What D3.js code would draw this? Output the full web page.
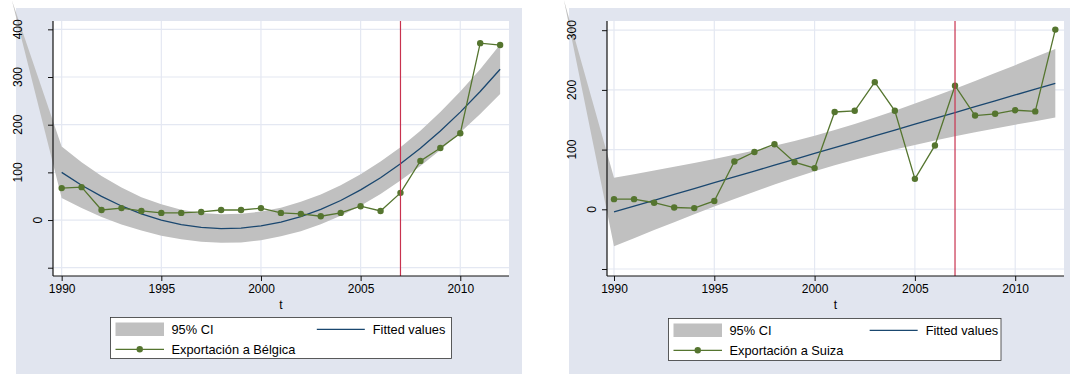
<!DOCTYPE html>
<html>
<head>
<meta charset="utf-8">
<script src="https://cdn.jsdelivr.net/npm/d3@7"></script>
<style>
  html, body { margin: 0; padding: 0; background: #ffffff; }
  svg { display: block; font-family: Arial, "Liberation Sans", Helvetica, sans-serif; }
</style>
</head>
<body>
<svg id="chart" width="1070" height="374"></svg>
<script>
// Years on the horizontal axis
const years = [1990,1991,1992,1993,1994,1995,1996,1997,1998,1999,2000,2001,
               2002,2003,2004,2005,2006,2007,2008,2009,2010,2011,2012];
const xTicks = [1990, 1995, 2000, 2005, 2010];
const breakYear = 2007;

// Exports to Belgium, quadratic fit and its 95% CI
const belgica    = [67,69,21,25,19,15,15,17,21,21,25,15,13,8,15,29,19,57,124,151,182,371,367];
const fitBelgica = [100.0,73.0,49.5,29.5,13.0,0.0,-9.5,-15.5,-17.9,-16.9,-12.3,-4.2,
                    7.3,22.4,41.0,63.2,88.8,117.9,150.5,186.7,226.4,269.5,316.2];
const hiBelgica  = [154,121,92.5,68.5,48,33,21.5,14.5,12.1,13.1,17.7,25.8,
                    38.3,53.4,73,96.2,122.8,152.9,187.5,226.7,269.4,316.5,368.2];
const loBelgica  = [46,25,6.5,-9.5,-22,-33,-40.5,-45.5,-47.9,-46.9,-42.3,-34.2,
                    -23.7,-8.6,9,30.2,54.8,82.9,113.5,146.7,183.4,222.5,264.2];
const bandStartBelgica = [1987.5, 461];
const yTicksBelgica = [-100, 0, 100, 200, 300, 400];

// Exports to Switzerland, linear fit and its 95% CI
const suiza    = [17,17,11,3,2,14,80,96,109,79,69,163,165,213,165,51,107,207,157,160,166,164,301];
const fitSuiza = [-4.5,5.3,15.1,24.9,34.7,44.5,54.3,64.1,73.9,83.7,93.5,103.3,
                  113.1,122.9,132.7,142.5,152.3,162.1,171.9,181.7,191.5,201.3,211.1];
const hiSuiza  = [52.8,58.9,65.0,71.3,77.7,84.4,91.4,98.7,106.4,114.6,123.4,132.9,
                  143.0,153.8,165.2,177.1,189.4,202.0,214.9,228.1,241.4,254.9,268.4];
const loSuiza  = [-61.8,-48.3,-34.8,-21.5,-8.3,4.6,17.2,29.5,41.4,52.8,63.6,73.7,
                  83.2,92.0,100.2,107.9,115.2,122.2,128.9,135.3,141.6,147.7,153.8];
const bandStartSuiza = [1987.5, 351];
const yTicksSuiza = [-100, 0, 100, 200, 300];

const legendLabels = ["95% CI", "Fitted values"];

const colors = {
  region: "#e1e5ef",
  grid: "#e4e8f2",
  band: "#c0c0c0",
  fit: "#1a476f",
  series: "#55752f",
  vline: "#c8324f",
  axis: "#111111"
};

const svg = d3.select("#chart");

const panels = [
  {
    name: "Exportación a Bélgica", values: belgica, fit: fitBelgica, hi: hiBelgica, lo: loBelgica,
    bandStart: bandStartBelgica, yTicks: yTicksBelgica,
    region: {x: 16, y: 8, w: 506, h: 366},
    plot: {x0: 53, x1: 509, y0: 21, y1: 276},
    xDomain: [1989.565, 2012.445], yDomain: [-117.4, 417.5],
    legend: {x: 110.5, y: 317.5, w: 341, h: 41}
  },
  {
    name: "Exportación a Suiza", values: suiza, fit: fitSuiza, hi: hiSuiza, lo: loSuiza,
    bandStart: bandStartSuiza, yTicks: yTicksSuiza,
    region: {x: 569, y: 8, w: 506, h: 366},
    plot: {x0: 607, x1: 1064, y0: 21, y1: 276},
    xDomain: [1989.651, 2012.433], yDomain: [-111.7, 315.4],
    legend: {x: 668.5, y: 318.5, w: 332.5, h: 42}
  }
];

panels.forEach(p => {
  const g = svg.append("g");
  const x = d3.scaleLinear().domain(p.xDomain).range([p.plot.x0, p.plot.x1]);
  const y = d3.scaleLinear().domain(p.yDomain).range([p.plot.y1, p.plot.y0]);

  // Graph region and plot region
  g.append("rect").attr("x", p.region.x).attr("y", p.region.y)
    .attr("width", p.region.w).attr("height", p.region.h).attr("fill", colors.region);
  g.append("rect").attr("x", p.plot.x0).attr("y", p.plot.y0)
    .attr("width", p.plot.x1 - p.plot.x0).attr("height", p.plot.y1 - p.plot.y0)
    .attr("fill", "#ffffff");

  // Grid lines
  g.append("g").selectAll("line").data(xTicks).join("line")
    .attr("x1", d => x(d)).attr("x2", d => x(d))
    .attr("y1", p.plot.y0).attr("y2", p.plot.y1)
    .attr("stroke", colors.grid).attr("stroke-width", 1.2);
  g.append("g").selectAll("line").data(p.yTicks).join("line")
    .attr("x1", p.plot.x0).attr("x2", p.plot.x1)
    .attr("y1", d => y(d)).attr("y2", d => y(d))
    .attr("stroke", colors.grid).attr("stroke-width", 1.2);

  // Confidence band (path opens at its first stored vertex)
  const upper = years.map((t, i) => [x(t), y(p.hi[i])]);
  const lower = years.map((t, i) => [x(t), y(p.lo[i])]).reverse();
  const start = [x(p.bandStart[0]), y(p.bandStart[1])];
  const bandPts = [start, ...upper, ...lower];
  g.append("path")
    .attr("d", d3.line()(bandPts) + "Z")
    .attr("fill", colors.band).attr("stroke", "none");

  // Fitted values
  g.append("path")
    .attr("d", d3.line().x((t) => x(t)).y((t, i) => y(p.fit[i]))(years))
    .attr("fill", "none").attr("stroke", colors.fit).attr("stroke-width", 1.3);

  // Observed series
  g.append("path")
    .attr("d", d3.line().x((t) => x(t)).y((t, i) => y(p.values[i]))(years))
    .attr("fill", "none").attr("stroke", colors.series).attr("stroke-width", 1.3);
  g.append("g").selectAll("circle").data(years).join("circle")
    .attr("cx", d => x(d)).attr("cy", (d, i) => y(p.values[i]))
    .attr("r", 3.2).attr("fill", colors.series);

  // Reference line
  g.append("line")
    .attr("x1", x(breakYear)).attr("x2", x(breakYear))
    .attr("y1", p.plot.y0).attr("y2", p.plot.y1)
    .attr("stroke", colors.vline).attr("stroke-width", 1.2);

  // Axes
  const xAxis = d3.axisBottom(x).tickValues(xTicks).tickSize(5).tickPadding(3)
    .tickFormat(d3.format("d"));
  const gx = g.append("g").attr("transform", `translate(0,${p.plot.y1})`).call(xAxis);
  gx.select(".domain").attr("d", `M${p.plot.x0},0H${p.plot.x1}`)
    .attr("stroke", colors.axis).attr("stroke-width", 1.2);
  gx.selectAll(".tick line").attr("stroke", colors.axis);
  gx.selectAll(".tick text").attr("font-size", 12).attr("fill", "#000")
    .attr("font-family", "Arial, 'Liberation Sans', sans-serif");

  const yAxis = d3.axisLeft(y).tickValues(p.yTicks).tickSize(5).tickFormat("");
  const gy = g.append("g").attr("transform", `translate(${p.plot.x0},0)`).call(yAxis);
  gy.select(".domain").attr("d", `M0,${p.plot.y0}V${p.plot.y1}`)
    .attr("stroke", colors.axis).attr("stroke-width", 1.2);
  gy.selectAll(".tick line").attr("stroke", colors.axis);

  // Vertical tick labels (negative values are not labelled)
  g.append("g").selectAll("text").data(p.yTicks.filter(v => v >= 0)).join("text")
    .attr("transform", d => {
      const len = String(d).length;
      const cx = p.plot.x0 - 15.5 - 10 * (len - 1);
      return `translate(${cx},${y(d)}) rotate(-90)`;
    })
    .attr("text-anchor", "middle")
    .attr("dy", "0.35em")
    .attr("font-size", 12)
    .text(d => d);

  // Axis title
  g.append("text")
    .attr("x", (p.plot.x0 + p.plot.x1) / 2).attr("y", 308.5)
    .attr("text-anchor", "middle").attr("font-size", 12).text("t");

  // Legend
  const L = p.legend;
  const lg = g.append("g").attr("transform", `translate(${L.x},${L.y})`);
  lg.append("rect").attr("width", L.w).attr("height", L.h)
    .attr("fill", "#ffffff").attr("stroke", "#333").attr("stroke-width", 0.8);
  const col2 = L.w * 0.605;
  lg.append("rect").attr("x", 5).attr("y", 5).attr("width", 48.5).attr("height", 13.5)
    .attr("fill", colors.band);
  lg.append("text").attr("x", 61).attr("y", 16.5).attr("font-size", 12.8).text(legendLabels[0]);
  lg.append("line").attr("x1", col2).attr("x2", col2 + 48).attr("y1", 11.8).attr("y2", 11.8)
    .attr("stroke", colors.fit).attr("stroke-width", 1.3);
  lg.append("text").attr("x", col2 + 56).attr("y", 16.5).attr("font-size", 12.8).text(legendLabels[1]);
  lg.append("line").attr("x1", 5).attr("x2", 53.5).attr("y1", 31.8).attr("y2", 31.8)
    .attr("stroke", colors.series).attr("stroke-width", 1.3);
  lg.append("circle").attr("cx", 29.25).attr("cy", 31.8).attr("r", 3.2).attr("fill", colors.series);
  lg.append("text").attr("x", 61).attr("y", 36.3).attr("font-size", 12.8).text(p.name);
});
</script>
</body>
</html>
